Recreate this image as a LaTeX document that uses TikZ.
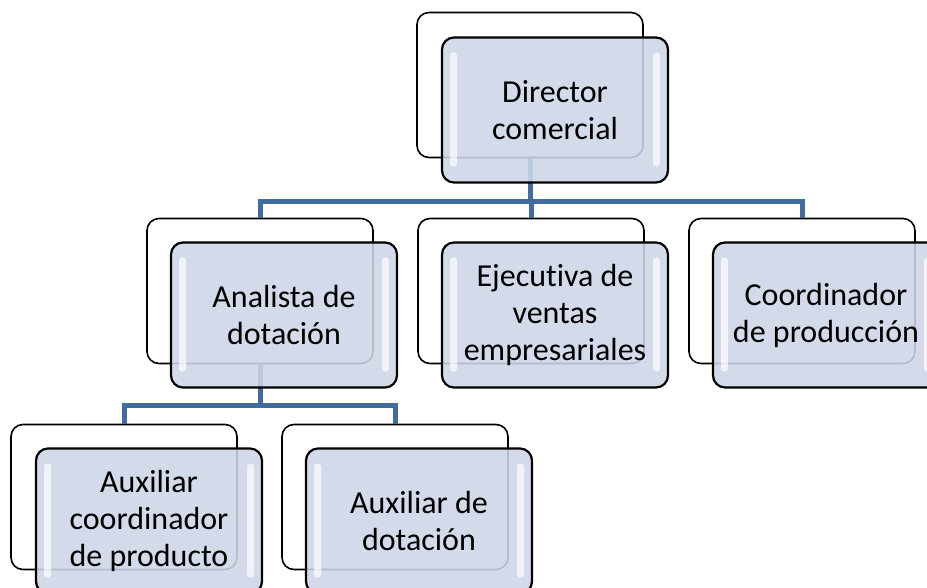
\documentclass[tikz,border=0pt]{standalone}
\usepackage{fontspec}
\setmainfont[Ligatures={NoCommon}]{Carlito}
\definecolor{boxfill}{RGB}{205,213,230}
\definecolor{linkblue}{RGB}{65,108,160}

\begin{document}
\begin{tikzpicture}[x=1pt,y=1pt]
	\tikzset{backbox/.style=
        {draw=black, line width=1.6pt, fill=white, rounded corners=12pt, minimum width=226pt, minimum height=145pt, inner sep=0pt},
        frontbox/.style=
        {draw=black, line width=2.2pt, fill=boxfill, fill opacity=0.88, text opacity=1, rounded corners=12pt, align=center,
         minimum width=226pt, minimum height=145pt, inner sep=0pt, font=\fontsize{32}{37}\selectfont,
         path picture={
           \fill[white, fill opacity=0.7, rounded corners=3pt] ([xshift=8pt,yshift=-15pt]path picture bounding box.north west) rectangle ([xshift=15pt,yshift=16pt]path picture bounding box.south west);
           \fill[white, fill opacity=0.7, rounded corners=3pt] ([xshift=-8pt,yshift=-15pt]path picture bounding box.north east) rectangle ([xshift=-15pt,yshift=16pt]path picture bounding box.south east);
         }},
        link/.style={draw=linkblue, line width=5pt}
     }
	\useasboundingbox (0,0) rectangle (927,-588);
	\clip (0,0) rectangle (927,-588);

	% back boxes
	\node[backbox] (dirB) at (530,-85) {};
	\node[backbox] (anaB) at (260,-291) {};
	\node[backbox] (ejeB) at (531,-291) {};
	\node[backbox] (cooB) at (802,-291) {};
	\node[backbox] (auxcB) at (124,-497) {};
	\node[backbox] (auxdB) at (395,-497) {};

	\coordinate (bus1) at (530,-202);
	\coordinate (bus2) at (260,-405);

	\draw[link] (dirB.south) -- (bus1);
	\draw[link] (anaB.north) |- (bus1);
	\draw[link] (ejeB.north) |- (bus1);
	\draw[link] (cooB.north) |- (bus1);
	\draw[link] (anaB.south) -- (bus2);
	\draw[link] (auxcB.north) |- (bus2);
	\draw[link] (auxdB.north) |- (bus2);

	% front boxes
	\node[frontbox] (dir) at (555,-110) {Director\\comercial};
	\node[frontbox] (ana) at (284,-315) {Analista de\\dotación};
	\node[frontbox] (eje) at (555,-315) {Ejecutiva de\\ventas\\empresariales};
	\node[frontbox] (coo) at (826,-315) {Coordinador\\de producción};
	\node[frontbox] (auxc) at (149,-521) {Auxiliar\\coordinador\\de producto};
	\node[frontbox] (auxd) at (419,-521) {Auxiliar de\\dotación};
\end{tikzpicture}
\end{document}
